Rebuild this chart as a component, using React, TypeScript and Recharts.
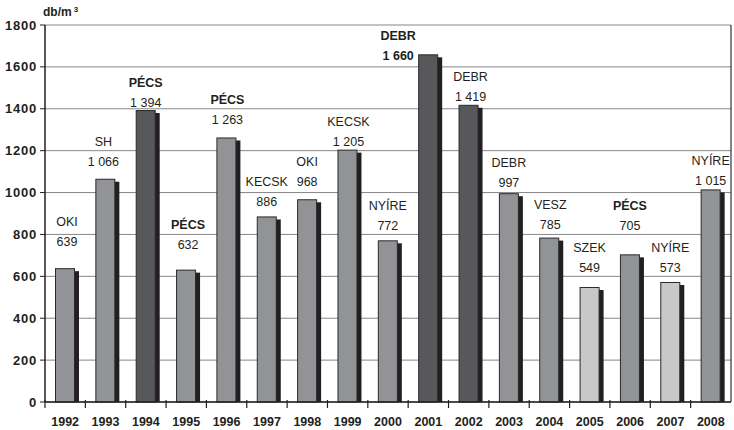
import React from "react";
import { BarChart, Bar, XAxis, YAxis, CartesianGrid, LabelList } from "recharts";

const years = ["1992", "1993", "1994", "1995", "1996", "1997", "1998", "1999", "2000", "2001", "2002", "2003", "2004", "2005", "2006", "2007", "2008"];
const density = [639, 1066, 1394, 632, 1263, 886, 968, 1205, 772, 1660, 1419, 997, 785, 549, 705, 573, 1015];
const cities = ["OKI", "SH", "PÉCS", "PÉCS", "PÉCS", "KECSK", "OKI", "KECSK", "NYÍRE", "DEBR", "DEBR", "DEBR", "VESZ", "SZEK", "PÉCS", "NYÍRE", "NYÍRE"];
const tones = ["mid", "mid", "dark", "mid", "mid", "mid", "mid", "mid", "mid", "dark", "dark", "mid", "mid", "light", "mid", "light", "mid"];
const boldNames = ["1994", "1995", "1996", "2001", "2006"];
const boldValues = ["2001"];
const yTicks = [0, 200, 400, 600, 800, 1000, 1200, 1400, 1600, 1800];

// label placement: gap in px between bar top and the value line, sideways nudge
const labelGap = [26, 17, 7, 25, 17, 14, 17, 8, 14, -2, 8, 10, 13, 19, 28, 14, 8];
const labelShift = [2, -2, 0, 2, 1, 0, 0, 1, 0, -30, 2, 0, 1, 0, 0, 0, 0];

const W = 734;
const H = 430;
const PLOT_LEFT = 45;
const PLOT_RIGHT = 731;
const BAND = (PLOT_RIGHT - PLOT_LEFT) / years.length;
const FONT = "'Liberation Sans', Arial, sans-serif";

const toneFill = { light: "#c7c8ca", mid: "#929396", dark: "#56585b" };

const data = years.map((year, i) => ({
  year,
  value: density[i],
  city: cities[i],
  tone: tones[i],
}));

const fmt = (v: number) =>
  v >= 1000 ? `${Math.floor(v / 1000)} ${String(v % 1000).padStart(3, "0")}` : String(v);

const ShadowBar = (props: any) => {
  const { x, y, width, height, payload } = props;
  const fill = toneFill[payload.tone] || toneFill.mid;
  return (
    <g>
      <rect x={x + 4} y={y + 3} width={width} height={Math.max(0, height - 3)} fill="#231f20" />
      <rect x={x + 0.5} y={y + 0.5} width={width - 1} height={height - 0.5} fill={fill} stroke="#2a2a2a" strokeWidth={1} />
    </g>
  );
};

const BarLabel = (props: any) => {
  const { x, y, width, value } = props;
  let idx = props.index;
  if (idx === undefined || idx === null) idx = density.indexOf(value);
  const cx = x + width / 2 + labelShift[idx];
  const vy = y - labelGap[idx];
  const year = years[idx];
  return (
    <g fontFamily={FONT} fontSize={12.5} fill="#231f20" textAnchor="middle">
      <text x={cx} y={vy - 20} dominantBaseline="central" fontWeight={boldNames.includes(year) ? "bold" : "normal"}>
        {cities[idx]}
      </text>
      <text x={cx} y={vy} dominantBaseline="central" fontWeight={boldValues.includes(year) ? "bold" : "normal"}>
        {fmt(density[idx])}
      </text>
    </g>
  );
};

const YearTick = (props: any) => {
  const { x, y, payload } = props;
  const edge = x - BAND / 2;
  return (
    <g>
      <line x1={edge} x2={edge} y1={y - 10} y2={y - 2} stroke="#231f20" strokeWidth={1.2} />
      <text x={x} y={y + 12} textAnchor="middle" dominantBaseline="central" fontFamily={FONT} fontSize={12.5} fontWeight="bold" fill="#231f20">
        {payload.value}
      </text>
    </g>
  );
};

const ValueTick = (props: any) => {
  const { x, y, payload } = props;
  return (
    <text x={x} y={y} textAnchor="end" dominantBaseline="central" fontFamily={FONT} fontSize={13} fontWeight="bold" letterSpacing={0.8} fill="#231f20">
      {payload.value}
    </text>
  );
};

export default function App() {
  return (
    <div style={{ position: "absolute", left: 0, top: 0, width: W, height: H, background: "#fff" }}>
      <BarChart width={W} height={H} data={data} margin={{ top: 25, right: 0, bottom: 0, left: 0 }} barSize={20}>
        <CartesianGrid vertical={false} stroke="#878787" strokeWidth={1} />
        <XAxis dataKey="year" height={28} interval={0} tickLine={false} axisLine={{ stroke: "#231f20", strokeWidth: 1.5 }} tick={<YearTick />} />
        <XAxis xAxisId="top" dataKey="year" orientation="top" height={0} tick={false} tickLine={false} axisLine={{ stroke: "#555", strokeWidth: 1.5 }} />
        <YAxis
          width={45}
          domain={[0, 1800]}
          ticks={yTicks}
          interval={0}
          tickSize={5}
          tickMargin={3}
          tickLine={{ stroke: "#231f20" }}
          axisLine={{ stroke: "#231f20", strokeWidth: 1.5 }}
          tick={<ValueTick />}
        />
        <YAxis yAxisId="right" orientation="right" width={3} tick={false} tickLine={false} axisLine={{ stroke: "#333", strokeWidth: 1.2 }} />
        <Bar dataKey="value" shape={<ShadowBar />} isAnimationActive={false}>
          <LabelList dataKey="value" content={(p: any) => <BarLabel {...p} />} />
        </Bar>
      </BarChart>
      <div style={{ position: "absolute", left: 43, top: 5, fontFamily: FONT, fontWeight: "bold", fontSize: 12, color: "#231f20" }}>
        db/m<span style={{ fontSize: 8, verticalAlign: "top", marginLeft: 2 }}>3</span>
      </div>
    </div>
  );
}
